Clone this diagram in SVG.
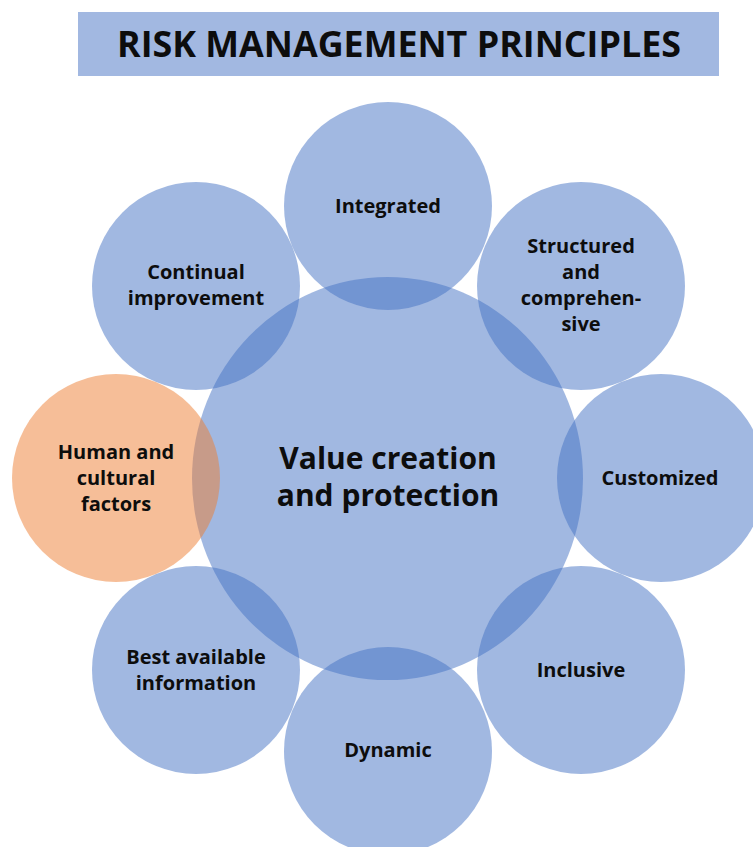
<svg xmlns="http://www.w3.org/2000/svg" width="753" height="847" viewBox="0 0 753 847">
<style>
.blue{fill:#4472c4;fill-opacity:0.5}
.orange{fill:#ed7d31;fill-opacity:0.5}
.lbl{font-family:"Open Sans","DejaVu Sans",sans-serif;font-weight:bold;font-size:20px;fill:#0d0d0d;text-anchor:middle}
.big{font-size:30px}
.title{font-family:"Open Sans","DejaVu Sans",sans-serif;font-weight:bold;font-size:35px;fill:#0d0d0d;text-anchor:middle}
</style>
<rect width="753" height="847" fill="#ffffff"/>
<g id="title">
<rect x="78" y="12" width="641" height="64" fill="#a2b8e1"/>
<text class="title" x="399" y="57" textLength="564" lengthAdjust="spacingAndGlyphs">RISK MANAGEMENT PRINCIPLES</text>
</g>
<g id="center">
<ellipse class="blue" cx="387.5" cy="478.5" rx="195.5" ry="201.5"/>
</g>
<g id="integrated">
<circle class="blue" cx="388" cy="206" r="104"/>
</g>
<g id="structured">
<circle class="blue" cx="581" cy="286" r="104"/>
</g>
<g id="customized">
<circle class="blue" cx="661" cy="478" r="104"/>
</g>
<g id="inclusive">
<circle class="blue" cx="581" cy="670" r="104"/>
</g>
<g id="dynamic">
<circle class="blue" cx="388" cy="751" r="104"/>
</g>
<g id="best-available">
<circle class="blue" cx="196" cy="670" r="104"/>
</g>
<g id="continual">
<circle class="blue" cx="196" cy="286" r="104"/>
</g>
<g id="human">
<circle class="orange" cx="116" cy="478" r="104"/>
</g>
<g id="labels">
<text class="lbl big" x="388" y="469">Value creation</text>
<text class="lbl big" x="388" y="506">and protection</text>
<text class="lbl" x="388" y="213">Integrated</text>
<text class="lbl" x="581" y="253">Structured</text>
<text class="lbl" x="581" y="279">and</text>
<text class="lbl" x="581" y="305">comprehen-</text>
<text class="lbl" x="581" y="331">sive</text>
<text class="lbl" x="660" y="485">Customized</text>
<text class="lbl" x="581" y="677">Inclusive</text>
<text class="lbl" x="388" y="757">Dynamic</text>
<text class="lbl" x="196" y="664">Best available</text>
<text class="lbl" x="196" y="690">information</text>
<text class="lbl" x="116" y="459">Human and</text>
<text class="lbl" x="116" y="485">cultural</text>
<text class="lbl" x="116" y="511">factors</text>
<text class="lbl" x="196" y="279">Continual</text>
<text class="lbl" x="196" y="305">improvement</text>
</g>
</svg>
